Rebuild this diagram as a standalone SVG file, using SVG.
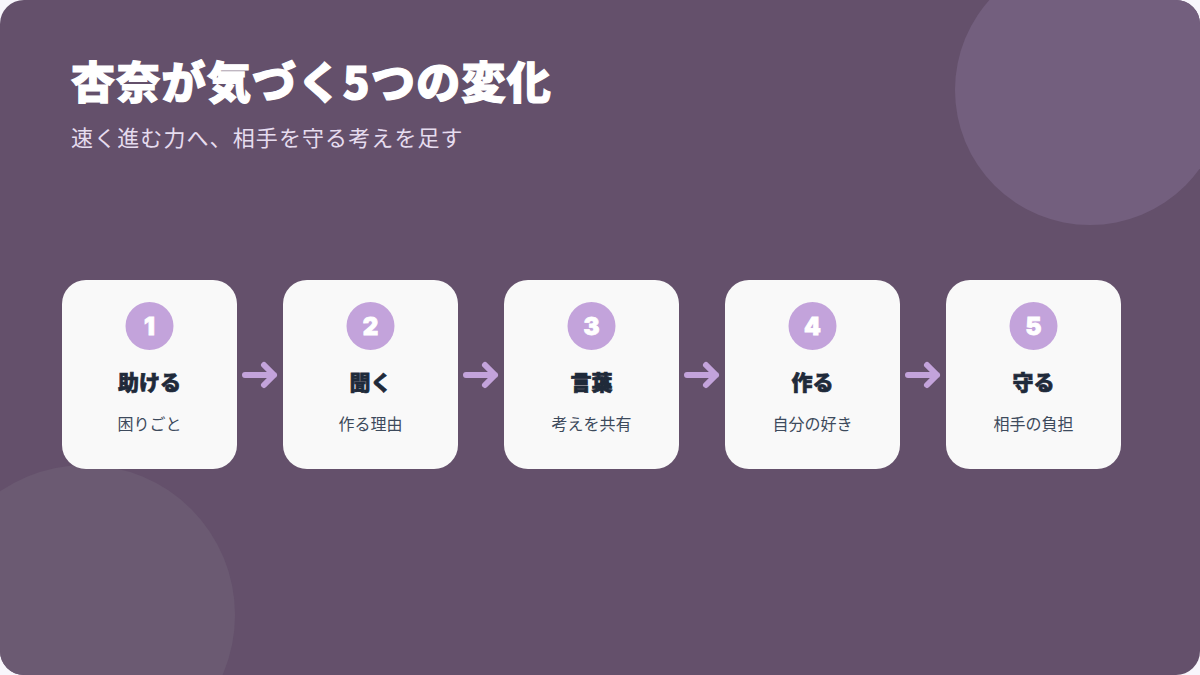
<svg xmlns="http://www.w3.org/2000/svg" width="1200" height="675" viewBox="0 0 1200 675">
  <defs>
    <clipPath id="frame">
      <rect x="0" y="0" width="1200" height="675" rx="24" ry="24"/>
    </clipPath>
    <style>
      .card { fill: #f9f9f9; }
      .badge { fill: #c3a3db; }
      .num { font-family: "Inter", "Noto Sans CJK JP", sans-serif; font-weight: 900; font-size: 24px; fill: #ffffff; stroke: #ffffff; stroke-width: 0.8; text-anchor: middle; }
      .ttl { font-family: "Noto Sans CJK JP", sans-serif; font-weight: 900; font-size: 21px; fill: #1f2a3a; stroke: #1f2a3a; stroke-width: 0.7; text-anchor: middle; }
      .sub { font-family: "Noto Sans CJK JP", sans-serif; font-weight: 400; font-size: 16px; fill: #3d4a5c; text-anchor: middle; }
      .conn { fill: none; stroke: #c3a3db; stroke-width: 6; stroke-linecap: round; stroke-linejoin: round; }
    </style>
  </defs>
  <rect x="0" y="0" width="1200" height="675" fill="#f8f6fc"/>
  <g clip-path="url(#frame)">
    <rect x="0" y="0" width="1200" height="675" fill="#64506b"/>
    <circle cx="1090" cy="90" r="135" fill="#735f7e"/>
    <circle cx="85" cy="615" r="150" fill="#6b5a72"/>
  </g>
  <g id="title">
    <text x="71" y="99" font-family="Noto Sans CJK JP, sans-serif" font-weight="900" font-size="44" fill="#ffffff" stroke="#ffffff" stroke-width="1.2" letter-spacing="1.3">杏奈が気づく5つの変化</text>
    <text x="71" y="146" font-family="Noto Sans CJK JP, sans-serif" font-weight="400" font-size="22" fill="#e6dcef" letter-spacing="1.1">速く進む力へ、相手を守る考えを足す</text>
  </g>
  <g id="connectors">
    <path class="conn" d="M245 375 H274 M264 365 L274 375 L264 385"/>
    <path class="conn" d="M466 375 H495 M485 365 L495 375 L485 385"/>
    <path class="conn" d="M687 375 H716 M706 365 L716 375 L706 385"/>
    <path class="conn" d="M908 375 H937 M927 365 L937 375 L927 385"/>
  </g>
  <g id="step1">
    <rect class="card" x="62" y="280" width="175" height="189" rx="24"/>
    <circle class="badge" cx="149.5" cy="326" r="24"/>
    <text class="num" x="149.5" y="335">1</text>
    <text class="ttl" x="149.5" y="390">助ける</text>
    <text class="sub" x="149.5" y="430">困りごと</text>
  </g>
  <g id="step2">
    <rect class="card" x="283" y="280" width="175" height="189" rx="24"/>
    <circle class="badge" cx="370.5" cy="326" r="24"/>
    <text class="num" x="370.5" y="335">2</text>
    <text class="ttl" x="370.5" y="390">聞く</text>
    <text class="sub" x="370.5" y="430">作る理由</text>
  </g>
  <g id="step3">
    <rect class="card" x="504" y="280" width="175" height="189" rx="24"/>
    <circle class="badge" cx="591.5" cy="326" r="24"/>
    <text class="num" x="591.5" y="335">3</text>
    <text class="ttl" x="591.5" y="390">言葉</text>
    <text class="sub" x="591.5" y="430">考えを共有</text>
  </g>
  <g id="step4">
    <rect class="card" x="725" y="280" width="175" height="189" rx="24"/>
    <circle class="badge" cx="812.5" cy="326" r="24"/>
    <text class="num" x="812.5" y="335">4</text>
    <text class="ttl" x="812.5" y="390">作る</text>
    <text class="sub" x="812.5" y="430">自分の好き</text>
  </g>
  <g id="step5">
    <rect class="card" x="946" y="280" width="175" height="189" rx="24"/>
    <circle class="badge" cx="1033.5" cy="326" r="24"/>
    <text class="num" x="1033.5" y="335">5</text>
    <text class="ttl" x="1033.5" y="390">守る</text>
    <text class="sub" x="1033.5" y="430">相手の負担</text>
  </g>
</svg>
